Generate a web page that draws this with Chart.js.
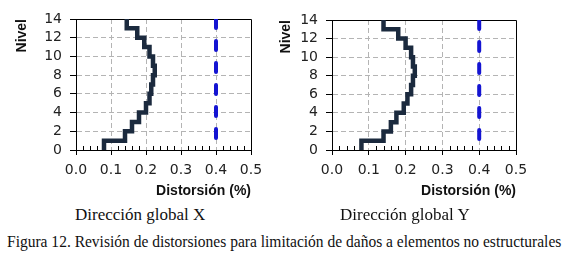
<!DOCTYPE html>
<html>
<head>
<meta charset="utf-8">
<script src="https://cdn.jsdelivr.net/npm/chart.js@4.4.0/dist/chart.umd.min.js"></script>
<style>
  body { margin: 0; background: #fff; width: 575px; height: 254px; overflow: hidden; position: relative; }
  .box { position: absolute; top: 0; height: 200px; }
  .cap { position: absolute; font-family: "Liberation Serif", "Times New Roman", serif; color: #111; white-space: nowrap; line-height: 1; }
</style>
</head>
<body>
<div class="box" style="left:0;width:280px"><canvas id="chartX"></canvas></div>
<div class="box" style="left:256px;width:290px"><canvas id="chartY"></canvas></div>
<div class="cap" style="left:75px;top:206px;font-size:17px">Dirección global X</div>
<div class="cap" style="left:340px;top:206px;font-size:17px">Dirección global Y</div>
<div class="cap" style="left:7px;top:234px;font-size:16.5px;transform:scaleX(0.94);transform-origin:0 0">Figura 12. Revisión de distorsiones para limitación de daños a elementos no estructurales</div>

<script>
// distorsion de entrepiso (%) por nivel 1..14
const distorsionX = [0.08, 0.14, 0.16, 0.18, 0.20, 0.21, 0.215, 0.22, 0.225, 0.22, 0.21, 0.195, 0.175, 0.145];
const distorsionY = [0.08, 0.14, 0.16, 0.175, 0.195, 0.205, 0.215, 0.22, 0.225, 0.22, 0.215, 0.20, 0.18, 0.14];
const limite = 0.4;
const nivelMax = 14;
const xMax = 0.5;
const pasoMenor = 0.02;

// escalera: cada entrepiso va de nivel i a i+1 con su distorsion
function escalera(d) {
    const pts = [];
    d.forEach((v, i) => {
        pts.push({ x: v, y: i });
        pts.push({ x: v, y: i + 1 });
    });
    return pts;
}

const marco = {
    id: 'marco',
    beforeDatasetsDraw(chart) {
        const { ctx, chartArea: a, scales } = chart;
        ctx.save();
        ctx.strokeStyle = '#000';
        ctx.lineWidth = 1;
        ctx.beginPath();
        ctx.moveTo(a.left, a.top + 0.5);
        ctx.lineTo(a.right + 0.5, a.top + 0.5);
        ctx.lineTo(a.right + 0.5, a.bottom);
        ctx.stroke();
        // marcas menores hacia adentro
        ctx.beginPath();
        for (let v = pasoMenor; v < xMax - 0.001; v += pasoMenor) {
            if (Math.abs(v * 10 - Math.round(v * 10)) < 0.001) continue;
            const px = Math.round(scales.x.getPixelForValue(v)) + 0.5;
            ctx.moveTo(px, a.bottom);
            ctx.lineTo(px, a.bottom - 4);
        }
        ctx.stroke();
        ctx.restore();
    }
};

function crearGrafico(id, datos, pad) {
    const fuenteTick = { family: 'DejaVu Sans', size: 14 };
    const fuenteTitulo = { family: 'Liberation Sans', size: 14, weight: 'bold' };
    new Chart(document.getElementById(id).getContext('2d'), {
        type: 'scatter',
        data: {
            datasets: [
                {
                    data: escalera(datos),
                    showLine: true,
                    borderColor: '#1b2a3e',
                    borderWidth: 4.5,
                    pointRadius: 0,
                    borderJoinStyle: 'miter',
                    borderCapStyle: 'butt'
                },
                {
                    data: [{ x: limite, y: nivelMax }, { x: limite, y: 0 }],
                    showLine: true,
                    borderColor: '#1414d2',
                    borderWidth: 4,
                    borderDash: [9, 13],
                    borderCapStyle: 'round',
                    pointRadius: 0
                }
            ]
        },
        options: {
            responsive: true,
            maintainAspectRatio: false,
            animation: false,
            events: [],
            layout: { padding: { left: 0, top: pad.top, right: pad.right, bottom: 0 } },
            plugins: {
                legend: { display: false },
                tooltip: { enabled: false }
            },
            scales: {
                x: {
                    type: 'linear',
                    min: 0,
                    max: xMax,
                    afterFit: s => { s.height = 50; },
                    ticks: {
                        stepSize: 0.1,
                        autoSkip: false,
                        callback: v => v.toFixed(1),
                        font: fuenteTick,
                        color: '#222',
                        padding: 7,
                        maxRotation: 0
                    },
                    grid: {
                        color: c => (c.tick && c.tick.value > 0.001 && c.tick.value < xMax - 0.001) ? '#b4b4b4' : 'transparent',
                        tickColor: '#000',
                        tickLength: 5
                    },
                    border: { display: true, color: '#000', width: 1, dash: [5, 3] },
                    title: {
                        display: true,
                        text: 'Distorsión (%)',
                        align: 'end',
                        font: fuenteTitulo,
                        color: '#111',
                        padding: { top: 0, bottom: 0 }
                    }
                },
                y: {
                    min: 0,
                    max: nivelMax,
                    afterFit: s => { s.width = 76; },
                    ticks: {
                        stepSize: 2,
                        autoSkip: false,
                        font: fuenteTick,
                        color: '#222',
                        padding: 8
                    },
                    grid: {
                        color: c => (c.tick && c.tick.value > 0 && c.tick.value < nivelMax) ? '#b4b4b4' : 'transparent',
                        tickColor: '#000',
                        tickLength: 6
                    },
                    border: { display: true, color: '#000', width: 1, dash: [5, 3] },
                    title: {
                        display: true,
                        text: 'Nivel',
                        align: 'end',
                        font: fuenteTitulo,
                        color: '#111',
                        padding: { top: pad.titulo, bottom: 0 }
                    }
                }
            }
        },
        plugins: [marco]
    });
}

crearGrafico('chartX', distorsionX, { top: 19, right: 29, titulo: 14 });
crearGrafico('chartY', distorsionY, { top: 20, right: 30, titulo: 22 });
</script>
</body>
</html>
